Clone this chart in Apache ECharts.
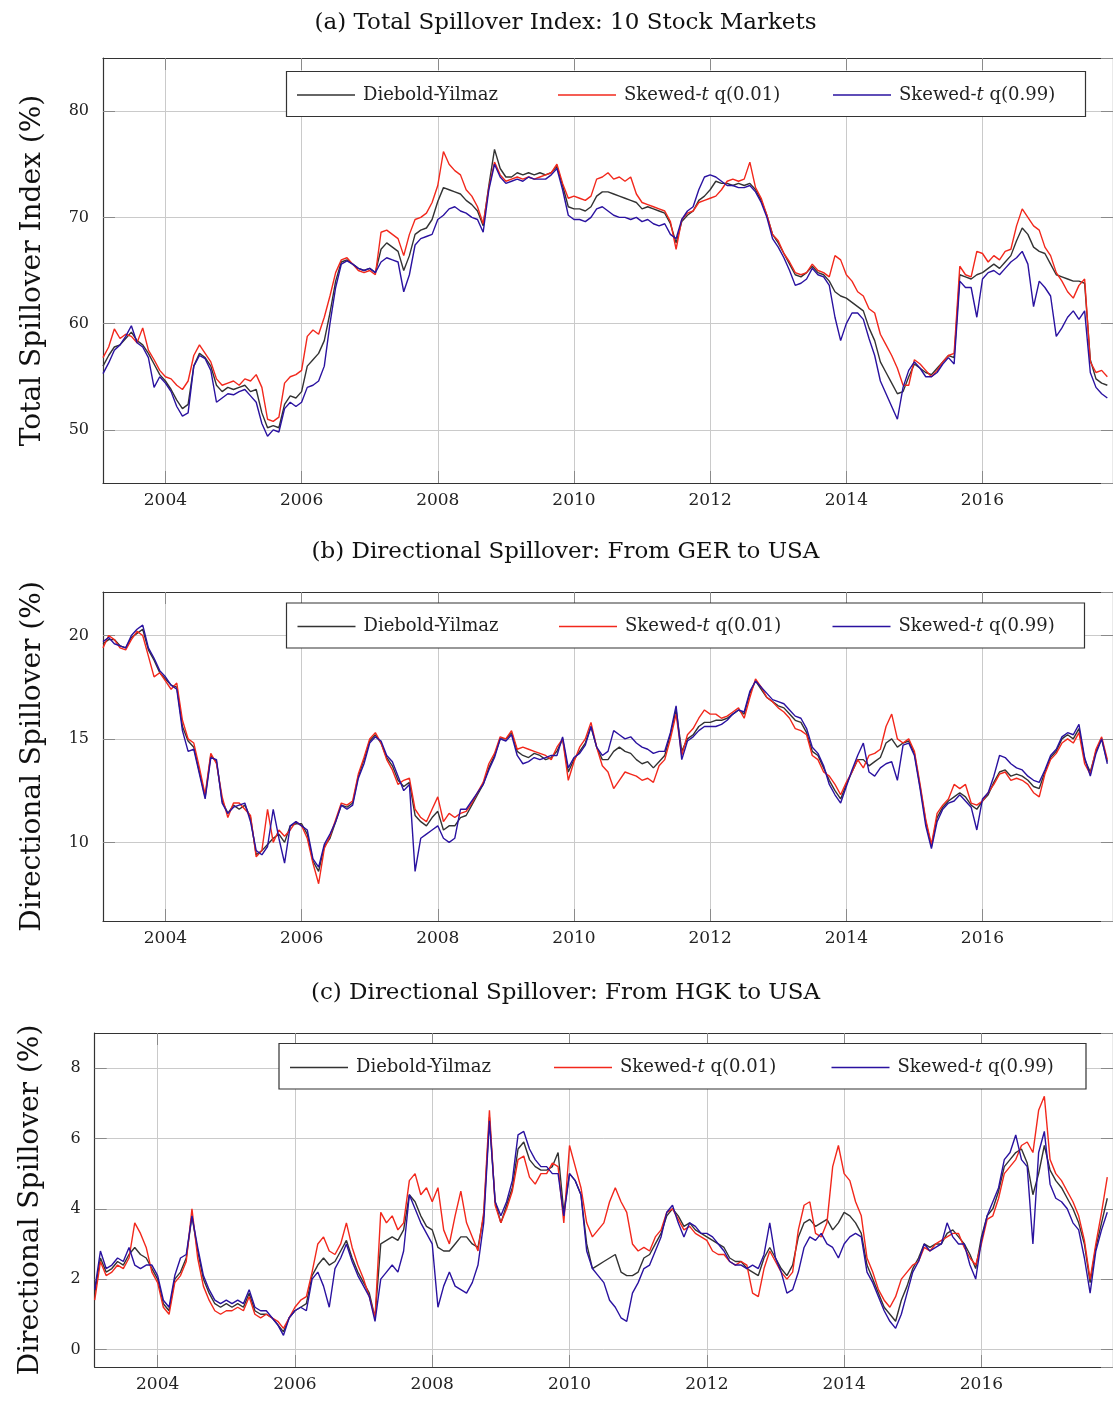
<!DOCTYPE html>
<html>
<head>
<meta charset="utf-8">
<title>Spillover indices</title>
<script src="https://cdn.jsdelivr.net/npm/echarts@6/dist/echarts.min.js"></script>
<style>
  html, body { margin: 0; padding: 0; background: #fff; }
  #chart { width: 1113px; height: 1405px; }
</style>
</head>
<body>
<div id="chart"></div>
<script>
// Monthly observation dates, Feb 2003 .. Dec 2017
const months = [];
for (let y = 2003; y <= 2017; y++) {
  for (let m = (y === 2003 ? 2 : 1); m <= 12; m++) months.push(y + '-' + String(m).padStart(2, '0'));
}

const seriesNames = ['Diebold-Yilmaz', 'Skewed-t q(0.01)', 'Skewed-t q(0.99)'];

// (a) Total spillover index, 10 stock markets (%)
const totalDY = [
  56.0, 57.0, 57.8, 58.0, 58.6, 59.2, 58.4, 58.0, 57.2, 56.2, 55.2, 54.6,
  53.8, 52.8, 52.0, 52.4, 56.0, 57.2, 56.8, 56.0, 54.2, 53.6, 54.0, 53.8,
  54.0, 54.2, 53.6, 53.8, 51.6, 50.2, 50.4, 50.2, 52.4, 53.2, 53.0, 53.6,
  56.0, 56.6, 57.2, 58.4, 61.0, 64.0, 65.8, 66.0, 65.6, 65.2, 65.0, 65.2,
  64.8, 67.0, 67.6, 67.2, 66.8, 65.0, 66.4, 68.4, 68.8, 69.0, 69.8, 71.5,
  72.8, 72.6, 72.4, 72.2, 71.6, 71.2, 70.6, 69.2, 73.0, 76.4, 74.6, 73.8,
  73.8, 74.2, 74.0, 74.2, 74.0, 74.2, 74.0, 74.2, 74.8, 73.0, 71.0, 70.8,
  70.8, 70.6, 71.0, 72.0, 72.4, 72.4, 72.2, 72.0, 71.8, 71.6, 71.4, 70.8,
  71.0, 70.8, 70.6, 70.4, 69.4, 67.6, 69.6, 70.2, 70.6, 71.6, 72.0, 72.6,
  73.4, 73.2, 73.2, 73.0, 73.2, 73.0, 73.2, 72.6, 71.6, 70.2, 68.4, 67.6,
  66.6, 65.6, 64.6, 64.4, 64.8, 65.4, 64.8, 64.6, 64.0, 63.0, 62.6, 62.4,
  62.0, 61.6, 61.2, 59.6, 58.4, 56.4, 55.4, 54.4, 53.4, 53.6, 55.0, 56.2,
  55.8, 55.4, 55.2, 55.8, 56.4, 57.0, 56.8, 64.6, 64.4, 64.2, 64.6, 64.8,
  65.2, 65.6, 65.2, 65.8, 66.4, 67.8, 69.0, 68.4, 67.2, 66.8, 66.6, 65.6,
  64.6, 64.4, 64.2, 64.0, 64.0, 63.8, 56.6, 54.8, 54.4, 54.2
];
const totalSkewLo = [
  56.8, 57.8, 59.5, 58.6, 59.0, 58.8, 58.2, 59.6, 57.5, 56.6, 55.6, 55.0,
  54.8, 54.2, 53.8, 54.6, 57.0, 58.0, 57.2, 56.4, 54.8, 54.2, 54.4, 54.6,
  54.2, 54.8, 54.6, 55.2, 54.0, 51.0, 50.8, 51.2, 54.4, 55.0, 55.2, 55.6,
  58.8, 59.4, 59.0, 60.6, 62.6, 64.8, 66.0, 66.2, 65.6, 65.0, 64.8, 65.0,
  64.6, 68.6, 68.8, 68.4, 68.0, 66.4, 68.4, 69.8, 70.0, 70.4, 71.4, 73.0,
  76.2, 75.0, 74.4, 74.0, 72.6, 72.0, 71.0, 69.4, 72.8, 75.2, 74.0, 73.4,
  73.6, 73.8, 73.6, 73.8, 73.6, 73.8, 74.0, 74.2, 75.0, 73.2, 71.8, 72.0,
  71.8, 71.6, 72.0, 73.6, 73.8, 74.2, 73.6, 73.8, 73.4, 73.8, 72.2, 71.4,
  71.2, 71.0, 70.8, 70.6, 69.6, 67.0, 69.8, 70.4, 70.6, 71.4, 71.6, 71.8,
  72.0, 72.6, 73.4, 73.6, 73.4, 73.6, 75.2, 72.8, 71.8, 70.2, 68.4, 67.8,
  66.6, 65.8, 64.8, 64.6, 64.8, 65.6, 65.0, 64.8, 64.4, 66.4, 66.0, 64.6,
  64.0, 63.0, 62.6, 61.4, 61.0, 59.0, 58.0, 57.0, 55.8, 54.2, 54.2, 56.6,
  56.2, 55.6, 55.0, 55.6, 56.4, 57.0, 57.2, 65.4, 64.6, 64.4, 66.8, 66.6,
  65.8, 66.4, 66.0, 66.8, 67.0, 69.2, 70.8, 70.0, 69.2, 68.8, 67.2, 66.4,
  64.8, 64.0, 63.0, 62.4, 63.6, 64.2, 56.4, 55.4, 55.6, 55.0
];
const totalSkewHi = [
  55.3, 56.3, 57.5, 58.0, 58.8, 59.8, 58.2, 57.8, 56.8, 54.0, 55.0, 54.4,
  53.6, 52.2, 51.3, 51.6, 56.0, 57.0, 56.7, 55.6, 52.6, 53.0, 53.4, 53.3,
  53.6, 53.8, 53.2, 52.6, 50.6, 49.4, 50.0, 49.8, 52.0, 52.6, 52.2, 52.6,
  54.0, 54.2, 54.6, 56.0, 60.0, 63.4, 65.6, 65.9, 65.6, 65.2, 65.0, 65.2,
  64.8, 65.8, 66.2, 66.0, 65.8, 63.0, 64.6, 67.4, 68.0, 68.2, 68.4, 69.8,
  70.2, 70.8, 71.0, 70.6, 70.4, 70.0, 69.8, 68.6, 72.6, 75.0, 73.8, 73.2,
  73.4, 73.6, 73.4, 73.8, 73.6, 73.6, 73.6, 74.0, 74.6, 72.6, 70.2, 69.8,
  69.8, 69.6, 70.0, 70.8, 71.0, 70.6, 70.2, 70.0, 70.0, 69.8, 70.0, 69.6,
  69.8, 69.4, 69.2, 69.4, 68.4, 68.0, 69.8, 70.6, 71.0, 72.6, 73.8, 74.0,
  73.8, 73.4, 73.0, 73.0, 72.8, 72.8, 73.0, 72.4, 71.4, 70.0, 68.0, 67.2,
  66.2, 65.0, 63.6, 63.8, 64.2, 65.2, 64.6, 64.4, 63.6, 60.6, 58.4, 60.0,
  61.0, 61.0, 60.4, 58.6, 57.0, 54.6, 53.4, 52.2, 51.0, 54.0, 55.6, 56.4,
  55.8, 55.0, 55.0, 55.4, 56.2, 56.8, 56.2, 64.0, 63.4, 63.4, 60.6, 64.2,
  64.8, 65.0, 64.6, 65.2, 65.8, 66.2, 66.8, 65.6, 61.6, 64.0, 63.4, 62.6,
  58.8, 59.6, 60.6, 61.2, 60.4, 61.2, 55.4, 54.0, 53.4, 53.0
];

// (b) Directional spillover from GER to USA (%)
const gerDY = [
  19.6, 19.8, 19.8, 19.5, 19.4, 19.9, 20.1, 20.3, 19.3, 18.8, 18.2, 17.9,
  17.6, 17.5, 15.6, 14.9, 14.6, 13.4, 12.2, 14.2, 13.9, 12.0, 11.4, 11.8,
  11.6, 11.8, 11.2, 9.4, 9.6, 9.9, 10.2, 10.4, 10.0, 10.8, 10.9, 10.9,
  10.4, 9.1, 8.6, 9.8, 10.2, 11.0, 11.8, 11.7, 11.9, 13.2, 14.0, 14.9,
  15.2, 14.8, 14.1, 13.7, 13.0, 12.7, 12.9, 11.3, 11.0, 10.8, 11.2, 11.5,
  10.6, 10.8, 10.8, 11.2, 11.3, 11.8, 12.3, 12.8, 13.6, 14.2, 15.0, 15.0,
  15.3, 14.4, 14.2, 14.1, 14.3, 14.2, 14.0, 14.1, 14.4, 15.0, 13.4, 14.0,
  14.4, 14.8, 15.6, 14.6, 14.0, 14.0, 14.4, 14.6, 14.4, 14.3, 14.0, 13.8,
  13.9, 13.6, 13.9, 14.2, 15.2, 16.4, 14.4, 15.0, 15.2, 15.6, 15.8, 15.8,
  15.9, 15.9, 16.0, 16.2, 16.4, 16.2, 17.2, 17.8, 17.4, 17.0, 16.8, 16.6,
  16.5, 16.2, 15.9, 15.8, 15.3, 14.4, 14.2, 13.6, 13.0, 12.5, 12.1, 12.8,
  13.4, 14.0, 14.0, 13.7, 13.9, 14.1, 14.8, 15.0, 14.6, 14.8, 14.9, 14.3,
  12.7, 11.0, 9.8, 11.2, 11.7, 12.0, 12.2, 12.4, 12.2, 11.8, 11.6, 12.0,
  12.3, 12.9, 13.4, 13.5, 13.2, 13.3, 13.2, 13.0, 12.7, 12.6, 13.4, 14.1,
  14.4, 15.0, 15.2, 15.0, 15.5, 14.0, 13.4, 14.4, 15.0, 13.9
];
const gerSkewLo = [
  19.4, 20.0, 19.8, 19.4, 19.3, 19.8, 20.2, 20.0, 19.0, 18.0, 18.2, 17.8,
  17.4, 17.7, 15.9, 15.0, 14.8, 13.6, 12.3, 14.3, 13.8, 12.2, 11.2, 11.9,
  11.9, 11.6, 11.3, 9.3, 9.6, 11.6, 10.0, 10.6, 10.3, 10.6, 11.0, 10.8,
  10.2, 9.0, 8.0, 9.7, 10.3, 11.1, 11.9, 11.8, 12.0, 13.3, 14.1, 15.0,
  15.3, 14.8, 14.0, 13.5, 12.8, 13.0, 13.1, 11.6, 11.2, 11.0, 11.6, 12.2,
  11.0, 11.4, 11.2, 11.4, 11.5, 11.9, 12.4, 12.9, 13.8, 14.3, 15.1, 15.0,
  15.4, 14.5, 14.6, 14.5, 14.4, 14.3, 14.2, 14.0, 14.6, 15.0, 13.0, 13.9,
  14.6, 15.0, 15.8, 14.6, 13.7, 13.4, 12.6, 13.0, 13.4, 13.3, 13.2, 13.0,
  13.1, 12.9, 13.7, 14.0, 15.0, 16.2, 14.2, 15.2, 15.5, 16.0, 16.4, 16.2,
  16.2, 16.0, 16.1, 16.3, 16.5, 16.0, 17.0, 17.9, 17.5, 17.0, 16.8, 16.5,
  16.3, 16.0, 15.5, 15.4, 15.2, 14.2, 14.0, 13.4, 13.2, 12.8, 12.3, 12.9,
  13.4, 14.0, 13.6, 14.2, 14.3, 14.5, 15.6, 16.2, 15.0, 14.8, 15.0, 14.4,
  12.8, 11.1, 9.9, 11.4, 11.8, 12.1, 12.8, 12.6, 12.8, 11.9, 11.8, 12.0,
  12.4, 12.8, 13.3, 13.4, 13.0, 13.1, 13.0, 12.8, 12.4, 12.2, 13.3, 14.0,
  14.3, 14.8, 15.0, 14.8, 15.3, 13.8, 13.3, 14.5, 15.1, 14.0
];
const gerSkewHi = [
  19.7, 19.9, 19.6, 19.5, 19.4, 20.0, 20.3, 20.5, 19.4, 18.9, 18.3, 18.0,
  17.6, 17.4, 15.4, 14.4, 14.5, 13.3, 12.1, 14.1, 14.0, 11.9, 11.4, 11.7,
  11.8, 11.9, 11.0, 9.6, 9.4, 9.8, 11.6, 10.2, 9.0, 10.8, 11.0, 10.8,
  10.6, 9.2, 8.8, 9.9, 10.4, 11.0, 11.8, 11.6, 11.8, 13.1, 13.8, 14.8,
  15.1, 14.9, 14.2, 13.9, 13.2, 12.5, 12.8, 8.6, 10.2, 10.4, 10.6, 10.8,
  10.2, 10.0, 10.2, 11.6, 11.6, 12.0, 12.4, 12.8, 13.5, 14.1, 15.0, 14.9,
  15.2, 14.2, 13.8, 13.9, 14.1, 14.0, 14.1, 14.2, 14.2, 15.1, 13.6, 14.1,
  14.3, 14.7, 15.6, 14.6, 14.2, 14.4, 15.4, 15.2, 15.0, 15.1, 14.8, 14.6,
  14.5, 14.3, 14.4, 14.4, 15.3, 16.6, 14.0, 14.9, 15.1, 15.4, 15.6, 15.6,
  15.6, 15.7, 15.9, 16.2, 16.4, 16.3, 17.3, 17.8, 17.5, 17.2, 16.9, 16.8,
  16.7, 16.4, 16.1, 16.0, 15.5, 14.6, 14.3, 13.7, 12.8, 12.3, 11.9, 12.7,
  13.5, 14.2, 14.8, 13.4, 13.2, 13.6, 13.8, 13.9, 13.0, 14.7, 14.8, 14.2,
  12.6, 10.8, 9.7, 11.0, 11.6, 11.9, 12.0, 12.3, 12.0, 11.7, 10.6, 12.1,
  12.4, 13.2, 14.2, 14.1, 13.8, 13.6, 13.5, 13.2, 13.0, 12.9, 13.5, 14.2,
  14.5, 15.1, 15.3, 15.2, 15.7, 14.1, 13.2, 14.3, 15.0, 13.8
];

// (c) Directional spillover from HGK to USA (%)
const hgkDY = [
  1.6, 2.6, 2.2, 2.3, 2.5, 2.4, 2.7, 2.9, 2.7, 2.6, 2.3, 2.0,
  1.3, 1.1, 2.0, 2.2, 2.6, 3.8, 2.8, 2.0, 1.6, 1.3, 1.2, 1.3,
  1.2, 1.3, 1.2, 1.6, 1.1, 1.0, 1.0, 0.9, 0.7, 0.5, 0.9, 1.1,
  1.2, 1.3, 2.1, 2.4, 2.6, 2.4, 2.5, 2.8, 3.1, 2.6, 2.2, 1.9,
  1.6, 0.9, 3.0, 3.1, 3.2, 3.1, 3.4, 4.4, 4.2, 3.8, 3.5, 3.4,
  2.9, 2.8, 2.8, 3.0, 3.2, 3.2, 3.0, 2.9, 3.8, 6.6, 4.2, 3.6,
  4.1, 4.6, 5.7, 5.9, 5.4, 5.2, 5.1, 5.1, 5.2, 5.6, 3.9, 5.0,
  4.8, 4.4, 3.0, 2.3, 2.4, 2.5, 2.6, 2.7, 2.2, 2.1, 2.1, 2.2,
  2.6, 2.7, 3.0, 3.3, 3.8, 4.0, 3.8, 3.5, 3.6, 3.4, 3.3, 3.2,
  3.1, 3.0, 2.9, 2.6, 2.5, 2.5, 2.3, 2.2, 2.1, 2.6, 2.9, 2.6,
  2.3, 2.1, 2.4, 3.2, 3.6, 3.7, 3.5, 3.6, 3.7, 3.4, 3.6, 3.9,
  3.8, 3.6, 3.3, 2.4, 2.0, 1.6, 1.2, 1.0, 0.8, 1.4, 1.8, 2.3,
  2.6, 3.0, 2.9, 3.0, 3.0, 3.3, 3.4, 3.2, 3.0, 2.7, 2.3, 3.2,
  3.8, 4.0, 4.5, 5.2, 5.4, 5.6, 5.7, 5.3, 4.4, 5.0, 5.8, 5.1,
  4.8, 4.6, 4.3, 4.0, 3.6, 3.0, 1.9, 2.9, 3.6, 4.3
];
const hgkSkewLo = [
  1.4, 2.5, 2.1, 2.2, 2.4, 2.3, 2.6, 3.6, 3.3, 2.9, 2.2, 1.9,
  1.2, 1.0, 1.9, 2.1, 2.5, 4.0, 2.6, 1.8, 1.4, 1.1, 1.0, 1.1,
  1.1, 1.2, 1.1, 1.5, 1.0, 0.9, 1.0, 0.9, 0.8, 0.6, 0.9, 1.2,
  1.4, 1.5, 2.2, 3.0, 3.2, 2.8, 2.7, 3.0, 3.6, 2.9, 2.4, 2.0,
  1.5, 0.9, 3.9, 3.6, 3.8, 3.4, 3.6, 4.8, 5.0, 4.4, 4.6, 4.2,
  4.6, 3.4, 3.0, 3.8, 4.5, 3.6, 3.2, 2.8, 3.9, 6.8, 4.1, 3.6,
  4.0, 4.5, 5.4, 5.5, 4.9, 4.7, 5.0, 5.0, 5.3, 5.2, 3.6, 5.8,
  5.2, 4.6, 3.6, 3.2, 3.4, 3.6, 4.2, 4.6, 4.2, 3.9, 3.0, 2.8,
  2.9, 2.8, 3.2, 3.4, 3.9, 4.0, 3.7, 3.4, 3.5, 3.3, 3.2, 3.1,
  2.8, 2.7, 2.7, 2.5, 2.4, 2.5, 2.4, 1.6, 1.5, 2.3, 2.8, 2.5,
  2.2, 2.0, 2.2, 3.4, 4.1, 4.2, 3.3, 3.2, 3.6, 5.2, 5.8, 5.0,
  4.8, 4.2, 3.8, 2.6, 2.2, 1.7, 1.4, 1.2, 1.5, 2.0, 2.2, 2.4,
  2.5, 2.9, 2.8, 3.0, 3.1, 3.2, 3.3, 3.3, 2.9, 2.6, 2.4, 3.0,
  3.7, 3.8, 4.3, 5.0, 5.2, 5.4, 5.8, 5.9, 5.6, 6.8, 7.2, 5.4,
  5.0, 4.8, 4.5, 4.2, 3.8, 3.1, 2.0, 3.0, 3.9, 4.9
];
const hgkSkewHi = [
  1.7, 2.8, 2.3, 2.4, 2.6, 2.5, 2.9, 2.4, 2.3, 2.4, 2.4, 2.1,
  1.4, 1.2, 2.1, 2.6, 2.7, 3.8, 2.9, 2.1, 1.7, 1.4, 1.3, 1.4,
  1.3, 1.4, 1.3, 1.7, 1.2, 1.1, 1.1, 0.9, 0.7, 0.4, 0.9, 1.1,
  1.2, 1.1, 2.0, 2.2, 1.8, 1.2, 2.3, 2.6, 3.0, 2.5, 2.1, 1.8,
  1.5, 0.8, 2.0, 2.2, 2.4, 2.2, 2.8, 4.4, 4.0, 3.6, 3.3, 3.0,
  1.2, 1.8, 2.2, 1.8, 1.7, 1.6, 1.9, 2.4, 3.6, 6.5, 4.2, 3.8,
  4.2, 4.8, 6.1, 6.2, 5.7, 5.4, 5.2, 5.2, 5.0, 5.0, 3.8, 5.0,
  4.8, 4.4, 2.8, 2.3, 2.1, 1.9, 1.4, 1.2, 0.9, 0.8, 1.6, 1.9,
  2.3, 2.4, 2.8, 3.2, 3.9, 4.1, 3.6, 3.2, 3.6, 3.5, 3.3, 3.3,
  3.2, 3.0, 2.8, 2.5, 2.4, 2.4, 2.3, 2.4, 2.3, 2.7, 3.6, 2.6,
  2.2, 1.6, 1.7, 2.2, 2.9, 3.2, 3.1, 3.3, 3.0, 2.9, 2.6, 3.0,
  3.2, 3.3, 3.2, 2.2, 1.9, 1.5, 1.1, 0.8, 0.6, 1.0, 1.6, 2.2,
  2.5, 3.0, 2.8, 2.9, 3.0, 3.6, 3.2, 3.0, 3.0, 2.4, 2.0, 3.1,
  3.8, 4.2, 4.6, 5.4, 5.6, 6.1, 5.4, 5.2, 3.0, 5.6, 6.2, 4.7,
  4.3, 4.2, 4.0, 3.6, 3.4, 2.6, 1.6, 2.8, 3.4, 3.9
];

// ---- styling and layout ----
const FONT = 'DejaVu Serif';
const LINE_COLORS = ['#333333', '#f2281c', '#2a12a0'];
const GRID_COLOR = '#cacaca';
const TICK_COLOR = '#8a8a8a';
const FRAME_COLOR = '#333333';
const LEGEND_SIZE = 18;

const panels = [
  { title: '(a) Total Spillover Index: 10 Stock Markets', titleY: 24,
    yName: 'Total Spillover Index (%)', nameGap: 56,
    left: 103, top: 58, height: 425, width: 1015, min: 45, max: 85, split: 4,
    data: [totalDY, totalSkewLo, totalSkewHi],
    legendY: 93.5, legendX: [297, 558, 833], box: [286.5, 71.5, 799, 45] },
  { title: '(b) Directional Spillover: From GER to USA', titleY: 553,
    yName: 'Directional Spillover (%)', nameGap: 56,
    left: 103, top: 592, height: 329, width: 1015, min: 6.2, max: 22.1, split: 3,
    data: [gerDY, gerSkewLo, gerSkewHi],
    legendY: 625, legendX: [297.5, 559, 832.5], box: [286.5, 603, 798, 45] },
  { title: '(c) Directional Spillover: From HGK to USA', titleY: 994,
    yName: 'Directional Spillover (%)', nameGap: 50,
    left: 94.7, top: 1033, height: 334, width: 1023.5, min: -0.5, max: 9, split: 5,
    data: [hgkDY, hgkSkewLo, hgkSkewHi],
    legendY: 1066, legendX: [290, 554, 831.5], box: [279, 1043.5, 807, 45.5] }
];

// tick every second January (2004, 2006, ...)
function isYearTick(index, value) {
  return value.slice(5) === '01' && (+value.slice(0, 4)) % 2 === 0;
}

const legendRich = {
  n: { fontFamily: FONT, fontSize: LEGEND_SIZE, color: '#222' },
  i: { fontFamily: FONT, fontSize: LEGEND_SIZE, color: '#222', fontStyle: 'italic' }
};
const legendLabels = [
  '{n|Diebold-Yilmaz}',
  '{n|Skewed-}{i|t}{n| q(0.01)}',
  '{n|Skewed-}{i|t}{n| q(0.99)}'
];

const option = {
  animation: false,
  backgroundColor: '#fff',
  title: [], grid: [], xAxis: [], yAxis: [], series: [], legend: [], graphic: []
};

panels.forEach((p, gi) => {
  option.title.push({
    text: p.title, left: 565.5, top: p.titleY - 12, textAlign: 'center', padding: 0,
    textStyle: { fontFamily: FONT, fontSize: 23, fontWeight: 'normal', color: '#111' }
  });

  option.grid.push({ left: p.left, top: p.top, width: p.width, height: p.height, containLabel: false });

  const tick = { show: true, inside: true, length: 12, interval: isYearTick, lineStyle: { color: TICK_COLOR, width: 1 } };
  const frame = { show: true, onZero: false, lineStyle: { color: FRAME_COLOR, width: 1.2 } };

  option.xAxis.push({
    type: 'category', gridIndex: gi, data: months, boundaryGap: false, position: 'bottom',
    axisLine: frame, axisTick: tick,
    axisLabel: { interval: isYearTick, formatter: v => v.slice(0, 4), fontFamily: FONT, fontSize: 17, color: '#222', margin: 9 },
    splitLine: { show: true, interval: isYearTick, lineStyle: { color: GRID_COLOR, width: 1 } }
  });
  option.xAxis.push({
    type: 'category', gridIndex: gi, data: months, boundaryGap: false, position: 'top',
    axisLine: frame, axisTick: tick, axisLabel: { show: false }, splitLine: { show: false }
  });

  const ytick = { show: true, inside: true, length: 12, lineStyle: { color: TICK_COLOR, width: 1 } };
  option.yAxis.push({
    type: 'value', gridIndex: gi, min: p.min, max: p.max, splitNumber: p.split, position: 'left',
    name: p.yName, nameLocation: 'middle', nameGap: p.nameGap, nameRotate: 90,
    nameTextStyle: { fontFamily: FONT, fontSize: 28, color: '#111' },
    axisLine: frame, axisTick: ytick,
    axisLabel: { showMinLabel: false, showMaxLabel: false, fontFamily: FONT, fontSize: 16, color: '#222', margin: 14 },
    splitLine: { show: true, lineStyle: { color: GRID_COLOR, width: 1 } }
  });
  option.yAxis.push({
    type: 'value', gridIndex: gi, min: p.min, max: p.max, splitNumber: p.split, position: 'right',
    axisLine: frame, axisTick: ytick, axisLabel: { show: false }, splitLine: { show: false }
  });

  p.data.forEach((vals, k) => {
    option.series.push({
      type: 'line', name: seriesNames[k], xAxisIndex: gi * 2, yAxisIndex: gi * 2,
      data: vals, symbol: 'none', showSymbol: false, z: 2 + k,
      lineStyle: { width: 1.4, color: LINE_COLORS[k] }, itemStyle: { color: LINE_COLORS[k] }
    });
  });

  // one legend entry per series, each placed at its own sample line
  seriesNames.forEach((name, k) => {
    option.legend.push({
      data: [{ name: name, icon: 'rect' }], left: p.legendX[k], top: p.legendY - 7.5, padding: 0,
      itemWidth: 58, itemHeight: 1.4, selectedMode: false, z: 5,
      formatter: () => legendLabels[k],
      textStyle: { fontFamily: FONT, fontSize: LEGEND_SIZE, color: '#222', padding: [0, 0, 0, 3], rich: legendRich }
    });
  });

  option.graphic.push({
    type: 'rect', z: 4,
    shape: { x: p.box[0], y: p.box[1], width: p.box[2], height: p.box[3] },
    style: { fill: '#ffffff', stroke: FRAME_COLOR, lineWidth: 1.2 }
  });
});

const chart = echarts.init(document.getElementById('chart'), null, { renderer: 'canvas' });
chart.setOption(option);
</script>
</body>
</html>
